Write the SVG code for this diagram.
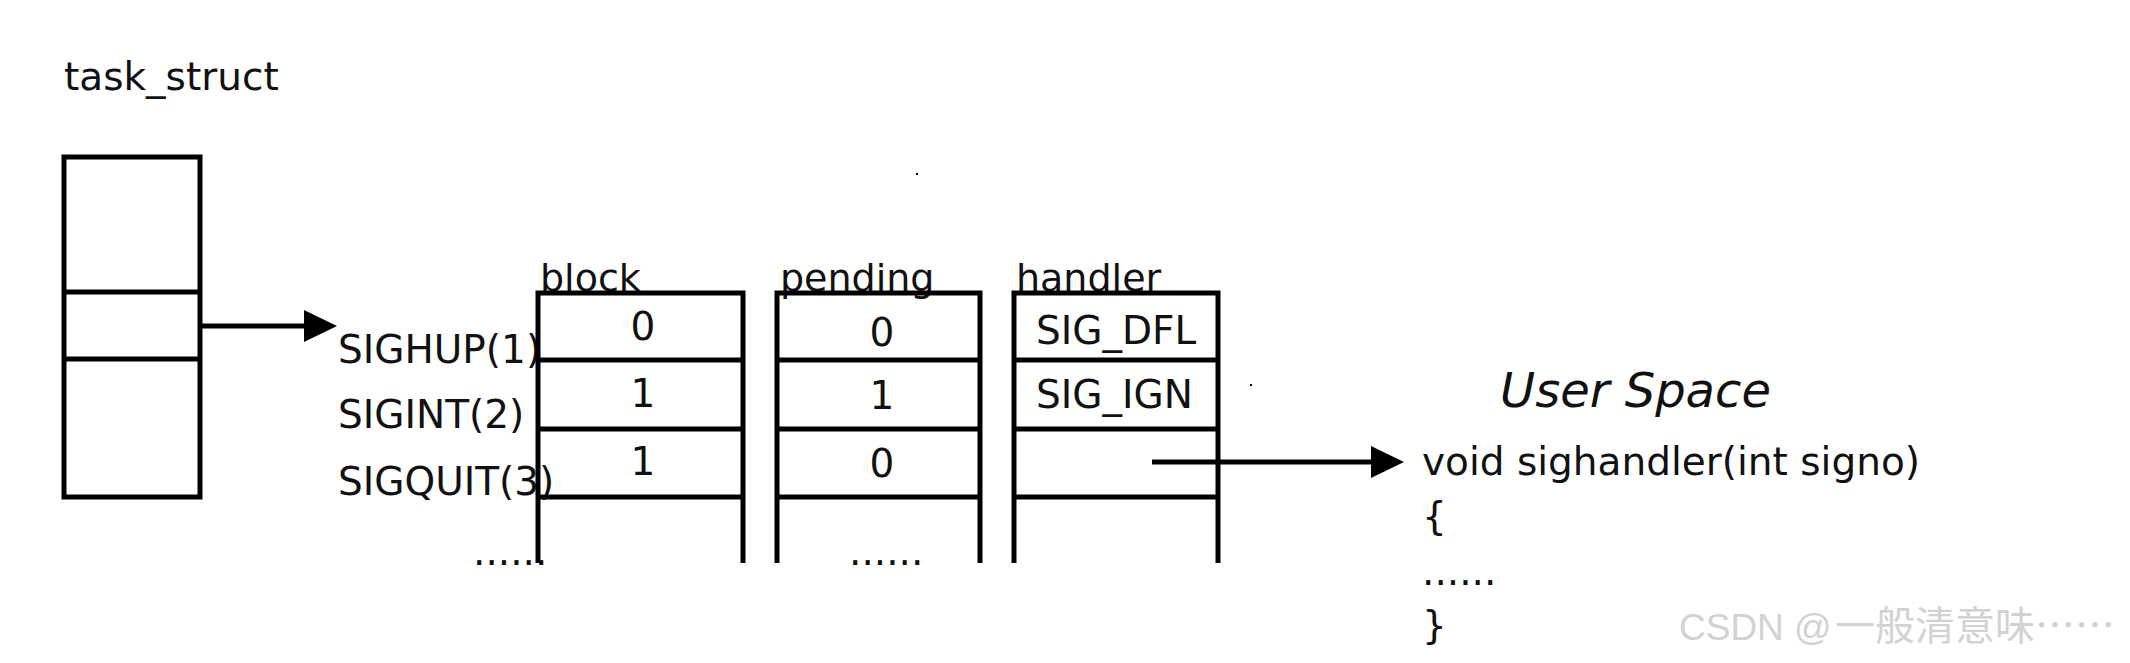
<svg xmlns="http://www.w3.org/2000/svg" width="2130" height="663" viewBox="0 0 2130 663">
<style>
.ln{stroke:#000;stroke-width:5;fill:none;stroke-linejoin:miter}
.t{font-family:"DejaVu Sans","Liberation Sans",sans-serif;font-size:39px;fill:#111}
.lbl{font-size:38px}
.us{font-size:48px;font-style:italic}
.v{text-anchor:middle}
.wm{font-family:"Liberation Sans","Noto Sans CJK SC",sans-serif;font-size:37px;fill:#d2d2d2}
.cjk{font-family:"Noto Sans CJK SC",sans-serif;font-size:40px}
</style>
<defs>
<marker id="ah" markerUnits="userSpaceOnUse" markerWidth="34" markerHeight="32" refX="0" refY="16" orient="auto">
<path d="M0,0 L33,16 L0,32 Z" fill="#000"/>
</marker>
</defs>
<rect width="2130" height="663" fill="#fff"/>

<g id="task_struct">
<text class="t" x="64" y="90">task_struct</text>
<rect class="ln" x="64" y="157" width="136" height="340"/>
<path class="ln" d="M64,292 H200 M64,359 H200"/>
</g>

<g id="signal_names">
<text class="t" x="338" y="363">SIGHUP(1)</text>
<text class="t" x="338" y="428">SIGINT(2)</text>
<text class="t" x="338" y="495">SIGQUIT(3)</text>
<text class="t" x="473" y="565">......</text>
</g>

<g id="block">
<text class="t lbl" x="540" y="291">block</text>
<path class="ln" d="M538,563 V293 H743 V563 M538,360 H743 M538,429 H743 M538,497 H743"/>
<text class="t v" x="643" y="340">0</text>
<text class="t v" x="643" y="407">1</text>
<text class="t v" x="643" y="475">1</text>
</g>

<g id="pending">
<text class="t lbl" x="780" y="291">pending</text>
<path class="ln" d="M777,563 V293 H980 V563 M777,360 H980 M777,429 H980 M777,497 H980"/>
<text class="t v" x="882" y="346">0</text>
<text class="t v" x="882" y="409">1</text>
<text class="t v" x="882" y="477">0</text>
<text class="t" x="849" y="565">......</text>
</g>

<g id="handler">
<text class="t lbl" x="1016" y="291">handler</text>
<path class="ln" d="M1014,563 V293 H1218 V563 M1014,360 H1218 M1014,429 H1218 M1014,497 H1218"/>
<text class="t" x="1036" y="344">SIG_DFL</text>
<text class="t" x="1036" y="408">SIG_IGN</text>
</g>

<g id="user_space">
<text class="t us" x="1500" y="407">User Space</text>
<text class="t" x="1422" y="475">void sighandler(int signo)</text>
<text class="t" x="1422" y="530">{</text>
<text class="t" x="1422" y="585">......</text>
<text class="t" x="1422" y="639">}</text>
</g>

<g id="connectors">
<path class="ln" d="M202,326 H304" marker-end="url(#ah)"/>
<path class="ln" d="M1152,462 H1371" marker-end="url(#ah)"/>
</g>

<g id="specks" fill="#000">
<rect x="916" y="173" width="2" height="2"/>
<rect x="1250" y="384" width="2" height="2"/>
</g>

<text class="wm" x="1679" y="640">CSDN @<tspan class="cjk" x="1835">一般清意味……</tspan></text>
</svg>
